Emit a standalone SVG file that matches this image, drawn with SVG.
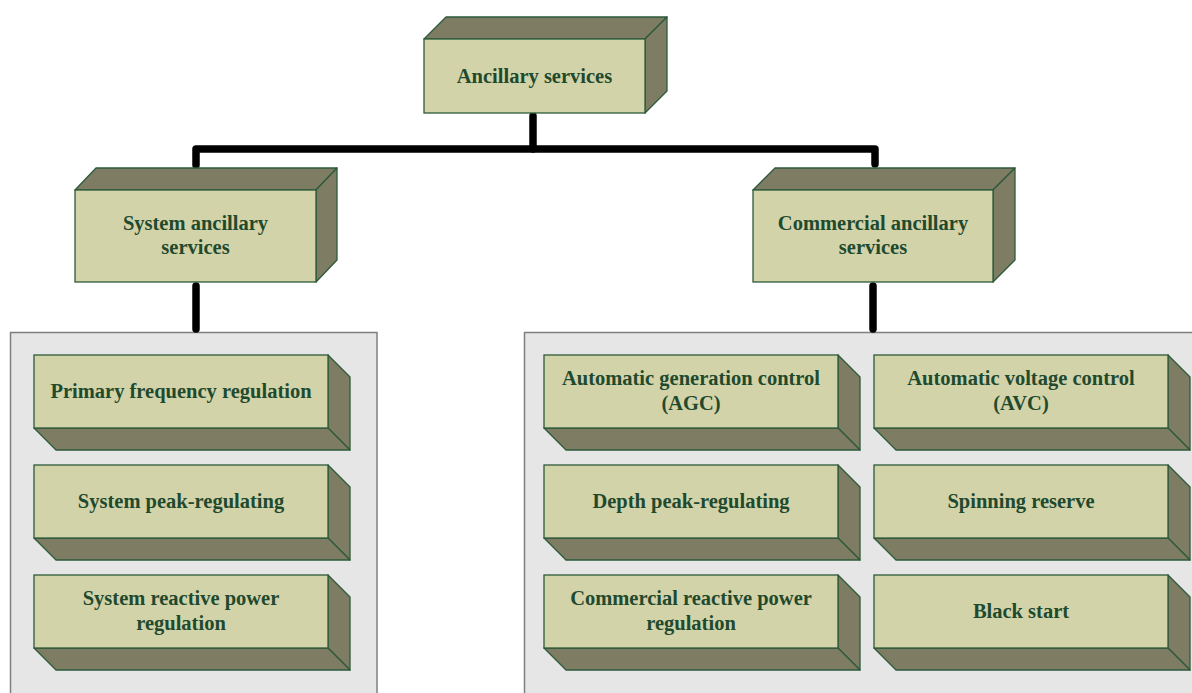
<svg xmlns="http://www.w3.org/2000/svg" width="1192" height="693" viewBox="0 0 1192 693">
<style>
.front{fill:#d3d3aa;stroke:#2d5a3a;stroke-width:1.3}
.side{fill:#7e7d64;stroke:#2d5a3a;stroke-width:1.3;stroke-linejoin:round}
.panel{fill:#e6e6e6;stroke:#7f7f7f;stroke-width:1.5}
.lbl{font-family:"Liberation Serif","Times New Roman",serif;font-weight:bold;font-size:20.5px;fill:#1f4a2e;text-anchor:middle}
.conn{fill:none;stroke:#000;stroke-width:7.5;stroke-linecap:round;stroke-linejoin:round}
</style>
<rect width="1192" height="693" fill="#fff"/>
<g id="panel-system"><rect class="panel" x="10.5" y="332.5" width="366.5" height="370"/></g>
<g id="panel-commercial"><rect class="panel" x="524.5" y="332.5" width="680" height="370"/></g>
<g id="connectors">
<path class="conn" d="M533,116 V149"/>
<path class="conn" d="M196,165 V149 H875 V164"/>
<path class="conn" d="M196,286 V329"/>
<path class="conn" d="M873,286 V329"/>
</g>
<g id="ancillary-services">
<polygon class="side" points="424,39 446,17 667,17 645,39"/>
<polygon class="side" points="645,39 667,17 667,91 645,113"/>
<rect class="front" x="424" y="39" width="221" height="74"/>
<text class="lbl" x="534.5" y="83">Ancillary services</text>
</g>
<g id="system-ancillary">
<polygon class="side" points="75,190 96,168 337,168 316,190"/>
<polygon class="side" points="316,190 337,168 337,260 316,282"/>
<rect class="front" x="75" y="190" width="241" height="92"/>
<text class="lbl" x="195.5" y="230">System ancillary</text>
<text class="lbl" x="195.5" y="254">services</text>
</g>
<g id="commercial-ancillary">
<polygon class="side" points="753,190 775,168 1015,168 993,190"/>
<polygon class="side" points="993,190 1015,168 1015,260 993,282"/>
<rect class="front" x="753" y="190" width="240" height="92"/>
<text class="lbl" x="873" y="230">Commercial ancillary</text>
<text class="lbl" x="873" y="254">services</text>
</g>
<g id="primary-frequency">
<polygon class="side" points="328,355 350,377 350,450 328,428"/>
<polygon class="side" points="34,428 328,428 350,450 56,450"/>
<rect class="front" x="34" y="355" width="294" height="73"/>
<text class="lbl" x="181" y="398">Primary frequency regulation</text>
</g>
<g id="system-peak">
<polygon class="side" points="328,465 350,487 350,560 328,538"/>
<polygon class="side" points="34,538 328,538 350,560 56,560"/>
<rect class="front" x="34" y="465" width="294" height="73"/>
<text class="lbl" x="181" y="508">System peak-regulating</text>
</g>
<g id="system-reactive">
<polygon class="side" points="328,575 350,597 350,670 328,648"/>
<polygon class="side" points="34,648 328,648 350,670 56,670"/>
<rect class="front" x="34" y="575" width="294" height="73"/>
<text class="lbl" x="181" y="605">System reactive power</text>
<text class="lbl" x="181" y="630">regulation</text>
</g>
<g id="agc">
<polygon class="side" points="838,355 860,377 860,450 838,428"/>
<polygon class="side" points="544,428 838,428 860,450 566,450"/>
<rect class="front" x="544" y="355" width="294" height="73"/>
<text class="lbl" x="691" y="385">Automatic generation control</text>
<text class="lbl" x="691" y="410">(AGC)</text>
</g>
<g id="avc">
<polygon class="side" points="1168,355 1190,377 1190,450 1168,428"/>
<polygon class="side" points="874,428 1168,428 1190,450 896,450"/>
<rect class="front" x="874" y="355" width="294" height="73"/>
<text class="lbl" x="1021" y="385">Automatic voltage control</text>
<text class="lbl" x="1021" y="410">(AVC)</text>
</g>
<g id="depth-peak">
<polygon class="side" points="838,465 860,487 860,560 838,538"/>
<polygon class="side" points="544,538 838,538 860,560 566,560"/>
<rect class="front" x="544" y="465" width="294" height="73"/>
<text class="lbl" x="691" y="508">Depth peak-regulating</text>
</g>
<g id="spinning-reserve">
<polygon class="side" points="1168,465 1190,487 1190,560 1168,538"/>
<polygon class="side" points="874,538 1168,538 1190,560 896,560"/>
<rect class="front" x="874" y="465" width="294" height="73"/>
<text class="lbl" x="1021" y="508">Spinning reserve</text>
</g>
<g id="commercial-reactive">
<polygon class="side" points="838,575 860,597 860,670 838,648"/>
<polygon class="side" points="544,648 838,648 860,670 566,670"/>
<rect class="front" x="544" y="575" width="294" height="73"/>
<text class="lbl" x="691" y="605">Commercial reactive power</text>
<text class="lbl" x="691" y="630">regulation</text>
</g>
<g id="black-start">
<polygon class="side" points="1168,575 1190,597 1190,670 1168,648"/>
<polygon class="side" points="874,648 1168,648 1190,670 896,670"/>
<rect class="front" x="874" y="575" width="294" height="73"/>
<text class="lbl" x="1021" y="618">Black start</text>
</g>
</svg>
